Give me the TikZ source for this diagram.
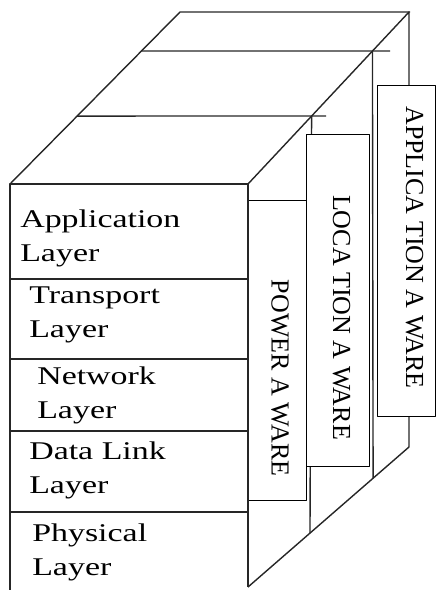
\documentclass[tikz,border=0pt]{standalone}
\usepackage{fontspec}
\setmainfont{Liberation Serif}
\usetikzlibrary{calc}
\begin{document}
\begin{tikzpicture}[x=1pt,y=-1pt,line join=round,
  edge/.style={line width=1.4pt,draw=black!85},
  boxx/.style={draw=black,line width=0.8pt,fill=white},
  lbl/.style={anchor=base west,inner sep=0pt,align=left,font=\fontsize{25.5}{34}\selectfont,xscale=1.33},
  vlbl/.style={inner sep=0pt,rotate=-90,font=\fontsize{26}{30}\selectfont}]
\useasboundingbox (0,0) rectangle (436,590);
% key corners
\coordinate (FTL) at (10,184);
\coordinate (FTR) at (248,184);
\coordinate (BTL) at (180,12);
\coordinate (BTR) at (409,12);
\coordinate (FBR) at (248,587);
\coordinate (BBR) at (409,447);
\coordinate (M1L) at ($(FTL)!0.395!(BTL)$);
\coordinate (M2L) at ($(FTL)!0.773!(BTL)$);
\coordinate (M1R) at ($(FTR)!0.395!(BTR)$);
\coordinate (M2R) at ($(FTR)!0.773!(BTR)$);
\coordinate (M1B) at ($(FBR)!0.385!(BBR)$);
\coordinate (M2B) at ($(FBR)!0.777!(BBR)$);
\coordinate (E0) at (410,12);
\coordinate (E2) at (390,51);
\coordinate (E1) at (326,116);
% back structure
\draw[edge] (FTL) -- (BTL) -- (E0);
\draw[edge] (M2L) -- (E2);
\draw[edge] (M1L) -- (E1);
\draw[edge] (FTR) -- (BTR) -- (BBR) -- (FBR);
\draw[edge] (M1R) -- (M1B);
\draw[edge] (M2R) -- (M2B);
% aware boxes
\draw[boxx] (248,200) rectangle (306,500);
\draw[boxx] (306,134) rectangle (369,466);
\draw[boxx] (377,85) rectangle (435.6,416);
\node[vlbl] (pw) at (280,378) {POWER A WARE};
\node[vlbl] (loc) at (341.5,317.5) {LOCA TION A WARE};
\node[vlbl] (app) at (414.5,247.5) {APPLICA TION A WARE};
% front face
\draw[edge] (10,591) -- (FTL) -- (FTR) -- (FBR);
\foreach \yy in {279,359,431,512} \draw[edge] (10,\yy) -- (248,\yy);
% layer labels (base = last line)
\node[lbl] (l1) at (20,261) {Application\\Layer};
\node[lbl] (l2) at (29,337) {Transport\\Layer};
\node[lbl] (l3) at (37,418) {Network\\Layer};
\node[lbl] (l4) at (29,493) {Data Link\\Layer};
\node[lbl] (l5) at (32,575) {Physical\\Layer};
\end{tikzpicture}
\end{document}
